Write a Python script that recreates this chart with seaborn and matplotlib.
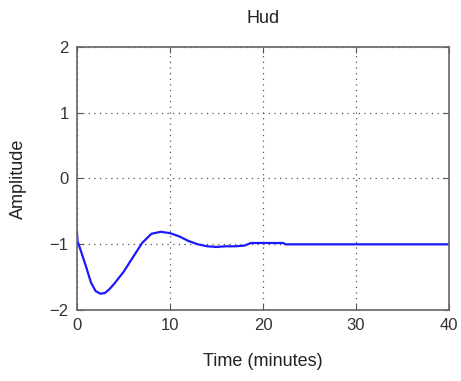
import numpy as np
import pandas as pd
import seaborn as sns
import matplotlib
matplotlib.use("Agg")
import matplotlib.pyplot as plt

# step response
time_min = [0, 0.05, 0.3, 1, 1.5, 2, 2.5, 3, 3.5, 4, 5, 6, 7, 8, 9, 10, 11, 12,
            13, 14, 15, 16, 17, 18, 18.7, 22.2, 22.4, 30, 40]
amplitude = [-0.82, -0.95, -1.05, -1.35, -1.58, -1.71, -1.75, -1.74, -1.68, -1.6,
             -1.42, -1.2, -0.98, -0.84, -0.81, -0.83, -0.88, -0.95, -1.0, -1.03,
             -1.04, -1.03, -1.03, -1.02, -0.98, -0.98, -1.0, -1.0, -1.0]
x_ticks = [0, 10, 20, 30, 40]
y_ticks = [-2, -1, 0, 1, 2]

df = pd.DataFrame({"Time (minutes)": time_min, "Amplitude": amplitude})

sns.set_style("white")
plt.rcParams['font.family'] = ['Liberation Sans', 'DejaVu Sans']

fig = plt.figure(figsize=(4.61, 3.81), dpi=100)
ax = fig.add_axes([0.167, 0.186, 0.807, 0.691])
sns.lineplot(data=df, x="Time (minutes)", y="Amplitude", color="#1a1aff", linewidth=1.6, ax=ax)

ax.set_xlim(0, 40)
ax.set_ylim(-2, 2)
ax.set_xticks(x_ticks)
ax.set_yticks(y_ticks)
ax.grid(True, linestyle=(0, (1, 3.5)), color="#555555", linewidth=0.9)
ax.tick_params(direction="in", length=4, color="#555555", labelsize=12, labelcolor="#333333",
               top=True, right=True, bottom=True, left=True, pad=6)
for s in ax.spines.values():
    s.set_color("#666666")
    s.set_linewidth(1.2)

ax.set_title("Hud", fontsize=13, color="#222222", pad=17)
ax.set_xlabel("Time (minutes)", fontsize=13, color="#222222", labelpad=14)
ax.set_ylabel("Amplitude", fontsize=13, color="#222222", labelpad=16)

fig.savefig("out.png", dpi=100)
